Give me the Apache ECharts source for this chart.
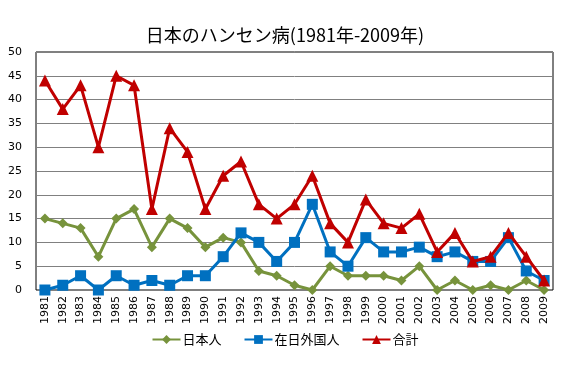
<!DOCTYPE html>
<html><head><meta charset="utf-8">
<script src="https://cdn.jsdelivr.net/npm/echarts@6/dist/echarts.min.js"></script>
<style>html,body{margin:0;padding:0;background:#fff}#c{width:570px;height:366px}</style>
</head><body><div id="c"></div>
<script>
const years = ['1981','1982','1983','1984','1985','1986','1987','1988','1989','1990','1991','1992','1993','1994','1995','1996','1997','1998','1999','2000','2001','2002','2003','2004','2005','2006','2007','2008','2009'];
const japanese = [15,14,13,7,15,17,9,15,13,9,11,10,4,3,1,0,5,3,3,3,2,5,0,2,0,1,0,2,0];
const foreign = [0,1,3,0,3,1,2,1,3,3,7,12,10,6,10,18,8,5,11,8,8,9,7,8,6,6,11,4,2];
const total = [44,38,43,30,45,43,17,34,29,17,24,27,18,15,18,24,14,10,19,14,13,16,8,12,6,7,12,7,2];
const chart = echarts.init(document.getElementById('c'), null, {renderer:'canvas'});
const font = '"DejaVu Sans", sans-serif';
chart.setOption({
  animation:false,
  title:{text:'日本のハンセン病(1981年-2009年)', left:'center', top:21,
    textStyle:{fontFamily:'"Noto Sans CJK JP"', fontWeight:'normal', fontSize:18, color:'#000'}},
  grid:{left:36, right:17, top:52, bottom:76, show:true, borderColor:'#000', borderWidth:1, containLabel:false},
  legend:{bottom:15, left:'center', itemWidth:28, itemHeight:11, itemGap:22,
    textStyle:{fontFamily:'"Noto Sans CJK JP"', fontSize:13, color:'#000', padding:[0,0,0,-3]},
    data:['日本人','在日外国人','合計']},
  xAxis:{type:'category', data:years, boundaryGap:true,
    axisLine:{show:false}, axisTick:{show:false},
    axisLabel:{rotate:90, fontFamily:font, fontSize:11, color:'#000', margin:6, interval:0}},
  yAxis:{type:'value', min:0, max:50, interval:5,
    axisLine:{show:false}, axisTick:{show:false},
    axisLabel:{fontFamily:font, fontSize:11, color:'#000', margin:14},
    splitLine:{lineStyle:{color:'#808080', width:1}}},
  series:[
    {name:'日本人', type:'line', data:japanese, symbol:'diamond', symbolSize:10,
      lineStyle:{color:'#77933C', width:3}, itemStyle:{color:'#77933C'}, z:3},
    {name:'在日外国人', type:'line', data:foreign, symbol:'rect', symbolSize:11,
      lineStyle:{color:'#0070C0', width:3}, itemStyle:{color:'#0070C0'}, z:4},
    {name:'合計', type:'line', data:total, symbol:'triangle', symbolSize:12,
      lineStyle:{color:'#C00000', width:3}, itemStyle:{color:'#C00000'}, z:5}
  ]
});
</script></body></html>
